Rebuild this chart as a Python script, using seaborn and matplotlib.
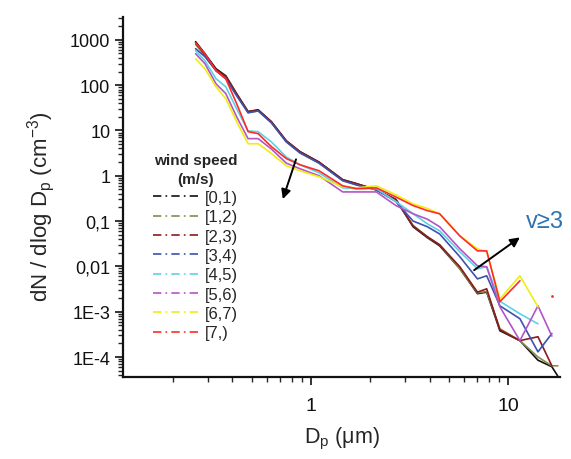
import numpy as np
import pandas as pd
import matplotlib
matplotlib.use('Agg')
import matplotlib.pyplot as plt
import matplotlib.ticker as mticker
from matplotlib.lines import Line2D
import seaborn as sns

# ── data ───────────────────────────────────────────────────────────────────
dp = [0.26, 0.29, 0.33, 0.37, 0.42, 0.48, 0.54, 0.63, 0.75, 0.88, 1.1, 1.45, 1.7,
      2.15, 2.7, 3.3, 3.9, 4.5, 5.7, 7.0, 7.8, 9.1, 11.5, 14.2, 16.7, 17.9]

ws_0_1 = [910, 494, 230, 161, 65, 26, 28.6, 15.6, 5.9, 3.4, 2.0, 0.82, 0.67, 0.49, 0.30,
          0.075, 0.043, 0.0285, 0.0089, 0.0025, 0.0027, 0.00038, 0.00023, 0.000085,
          0.000061, 0.000038]
ws_1_2 = [790, 440, 208, 150, 62, 24.6, 27, 14.8, 5.6, 3.2, 1.9, 0.78, 0.63, 0.49, 0.28,
          0.08, 0.045, 0.03, 0.0089, 0.0026, 0.0028, 0.00042, 0.00023, 0.0001,
          0.000064, 0.000064]
ws_2_3 = [860, 470, 220, 155, 63, 26, 28, 15.6, 5.9, 3.4, 2.0, 0.82, 0.67, 0.49, 0.30,
          0.078, 0.045, 0.03, 0.0098, 0.0027, 0.0032, 0.0004, 0.00023, 0.00028,
          0.000064, np.nan]
ws_3_4 = [636, 424, 208, 138, 58, 24.6, 27, 14.8, 5.6, 3.2, 1.9, 0.78, 0.63, 0.49, 0.27,
          0.10, 0.075, 0.052, 0.0163, 0.0053, 0.0062, 0.00135, 0.0007, 0.00013,
          0.00033, np.nan]
ws_4_5 = [575, 346, 138, 92, 30, 9.8, 9.4, 5.6, 2.6, 1.75, 1.16, 0.54, 0.52, 0.52, 0.27,
          0.145, 0.087, 0.061, 0.021, 0.0089, 0.0098, 0.0017, 0.0009, 0.00054,
          np.nan, np.nan]
ws_5_6 = [494, 297, 107, 65, 20, 6.6, 6.6, 3.9, 1.9, 1.43, 1.0, 0.44, 0.44, 0.44, 0.22,
          0.145, 0.11, 0.075, 0.0245, 0.0103, 0.0098, 0.00128, 0.00023, 0.00135,
          0.00029, np.nan]
ws_6_7 = [383, 230, 92, 50, 15.6, 5.1, 5.1, 3.1, 1.66, 1.29, 0.95, 0.57, 0.54, 0.60, 0.38,
          0.24, 0.19, 0.145, 0.047, 0.0245, 0.021, 0.0019, 0.0062, 0.00128,
          np.nan, np.nan]
ws_7 = [860, 494, 208, 138, 39, 9.4, 8.5, 4.4, 2.4, 1.75, 1.29, 0.60, 0.52, 0.54, 0.34,
        0.22, 0.17, 0.145, 0.047, 0.022, 0.022, 0.00166, 0.0048, np.nan,
        np.nan, np.nan]
# lone point of the last class (neighbours missing)
ws_7_lone_dp = [16.7]
ws_7_lone = [0.0022]

classes = ['[0,1)', '[1,2)', '[2,3)', '[3,4)', '[4,5)', '[5,6)', '[6,7)', '[7,)']
series = [ws_0_1, ws_1_2, ws_2_3, ws_3_4, ws_4_5, ws_5_6, ws_6_7, ws_7]
colores = ['#111111', '#8a8a4a', '#8b1a1a', '#3a52b4', '#5cd3e3', '#b355c6', '#eeee10', '#ff2a2a']

ytick_vals = [1000, 100, 10, 1, 0.1, 0.01, 1e-3, 1e-4]
ytick_labels = ['1000', '100', '10', '1', '0,1', '0,01', '1E-3', '1E-4']

df = pd.concat([pd.DataFrame({'dp': dp, 'n': s, 'ws': c}) for s, c in zip(series, classes)])
df = df.dropna()
paleta = dict(zip(classes, colores))

# ── figure ──────────────────────────────────────────────────────────────────
sns.set_style('ticks')
plt.rcParams['font.family'] = ['Liberation Sans', 'DejaVu Sans']
plt.rcParams['mathtext.fontset'] = 'custom'
plt.rcParams['mathtext.rm'] = 'Liberation Sans'
plt.rcParams['mathtext.it'] = 'Liberation Sans'

fig = plt.figure(figsize=(5.71, 4.60), dpi=100)
ax = fig.add_axes([0.215, 0.178, 0.766, 0.783])

sns.lineplot(data=df, x='dp', y='n', hue='ws', palette=paleta, hue_order=classes,
             estimator=None, sort=False, lw=1.2, legend=False, ax=ax)
sns.scatterplot(x=ws_7_lone_dp, y=ws_7_lone, color=colores[-1], s=4, lw=0, ax=ax)

ax.set_xscale('log'); ax.set_yscale('log')
ax.set_xlim(0.111, 18.4)
ax.set_ylim(3.6e-5, 3200)

ax.set_yticks(ytick_vals)
ax.set_yticklabels(ytick_labels)
ax.yaxis.set_minor_locator(mticker.LogLocator(base=10, subs=np.arange(2, 10), numticks=30))
ax.yaxis.set_minor_formatter(mticker.NullFormatter())
ax.set_xticks([1, 10])
ax.set_xticklabels(['1', '10'])
ax.xaxis.set_minor_locator(mticker.LogLocator(base=10, subs=np.arange(2, 10), numticks=30))
ax.xaxis.set_minor_formatter(mticker.NullFormatter())

ax.tick_params(axis='both', which='major', direction='out', length=6, width=1.2,
               labelsize=13, colors='#111111', pad=3)
ax.tick_params(axis='both', which='minor', direction='out', length=3.5, width=1.0)
ax.tick_params(axis='x', which='major', labelsize=14, pad=8)
for sp in ['top', 'right']:
    ax.spines[sp].set_visible(False)
for sp in ['left', 'bottom']:
    ax.spines[sp].set_linewidth(1.6)
    ax.spines[sp].set_color('#111111')

ax.set_ylabel(r'dN / dlog D$_\mathrm{p}$ (cm$^{-3}$)', fontsize=16)
ax.yaxis.set_label_coords(-0.15, 0.475)
ax.set_xlabel(r'D$_\mathrm{p}$ ($\mu$m)', fontsize=15.5, labelpad=8)

# legend with dash-dot handles
handles = [Line2D([], [], color=c, lw=1.2, ls=(0, (5, 2.5, 1, 2.5))) for c in colores]
leg = ax.legend(handles, classes, title='wind speed\n(m/s)', loc='upper left',
                bbox_to_anchor=(0.053, 0.64), frameon=False, fontsize=12,
                title_fontsize=11, handlelength=2.9, handletextpad=0.25,
                labelspacing=0.26, borderaxespad=0)
leg.get_title().set_fontweight('bold')
leg.get_title().set_multialignment('center')
leg.get_title().set_linespacing(1.4)

# arrows and annotation
ax.annotate('', xy=(0.713, 0.267), xytext=(0.849, 2.63),
            arrowprops=dict(arrowstyle='-|>', color='black', lw=1.4, mutation_scale=14))
ax.annotate('', xy=(11.8, 0.0473), xytext=(6.56, 0.0076),
            arrowprops=dict(arrowstyle='-|>', color='black', lw=1.4, mutation_scale=14))
ax.text(12.3, 0.10, 'v≥3', color='#2f73b0', fontsize=17, va='center', ha='left',
        clip_on=False)

fig.savefig('out.png', dpi=100, facecolor='white')
